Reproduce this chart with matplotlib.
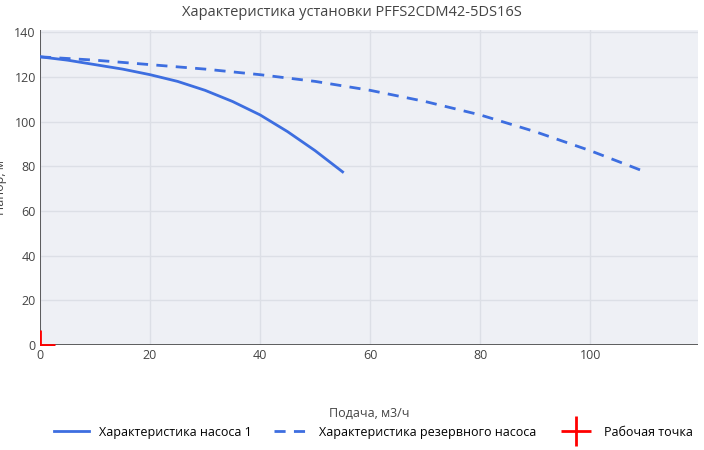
import matplotlib
matplotlib.use("Agg")
import matplotlib.pyplot as plt

q1 = [0, 5, 10, 15, 20, 25, 30, 35, 40, 45, 50, 55]
h1 = [129, 127.5, 125.5, 123.5, 121, 118, 114, 109, 103, 95.5, 87, 77.5]
q2 = [0, 10, 20, 30, 40, 50, 60, 70, 80, 90, 100, 110]
h2 = [129, 127.5, 125.5, 123.5, 121, 118, 114, 109, 103, 95.5, 87, 77.5]
work_q = [0]
work_h = [0]
xticks = [0, 20, 40, 60, 80, 100]
yticks = [0, 20, 40, 60, 80, 100, 120, 140]

plt.rcParams['font.family'] = ['Open Sans', 'DejaVu Sans']
fig = plt.figure(figsize=(7.04, 4.5), dpi=100)
ax = fig.add_axes([40/704, 105/450, 658/704, 315/450])
ax.set_facecolor("#eef0f5")
for s in ax.spines.values():
    s.set_visible(False)
ax.axhline(0, color="#444444", lw=1.2, zorder=1)
ax.axvline(0, color="#444444", lw=1.2, zorder=1)
ax.grid(True, color="#dcdfe6", lw=1)
ax.set_axisbelow(True)
c = "#3d6ee0"
ax.plot(q1, h1, color=c, lw=2, label="Характеристика насоса 1")
ax.plot(q2, h2, color=c, lw=2, ls=(0, (4, 3)), label="Характеристика резервного насоса")
ax.plot(work_q, work_h, "+", color="red", ms=22, mew=2, label="Рабочая точка", zorder=5)
ax.set_xlim(0, 119.6)
ax.set_ylim(0, 141)
ax.set_xticks(xticks)
ax.set_yticks(yticks)
ax.tick_params(length=0, labelsize=9, colors="#444444", pad=3)
ax.set_xlabel("Подача, м3/ч", fontsize=9, color="#444444", labelpad=32)
ax.set_ylabel("Напор, м", fontsize=9, color="#444444", labelpad=5)
fig.suptitle("Характеристика установки PFFS2CDM42-5DS16S", y=0.99, fontsize=10.5, color="#444444")
fig.legend(loc="lower center", ncol=3, frameon=False, fontsize=9, bbox_to_anchor=(0.53, 0.0), handlelength=2.8, columnspacing=1.8)
fig.savefig("out.png", dpi=100)
